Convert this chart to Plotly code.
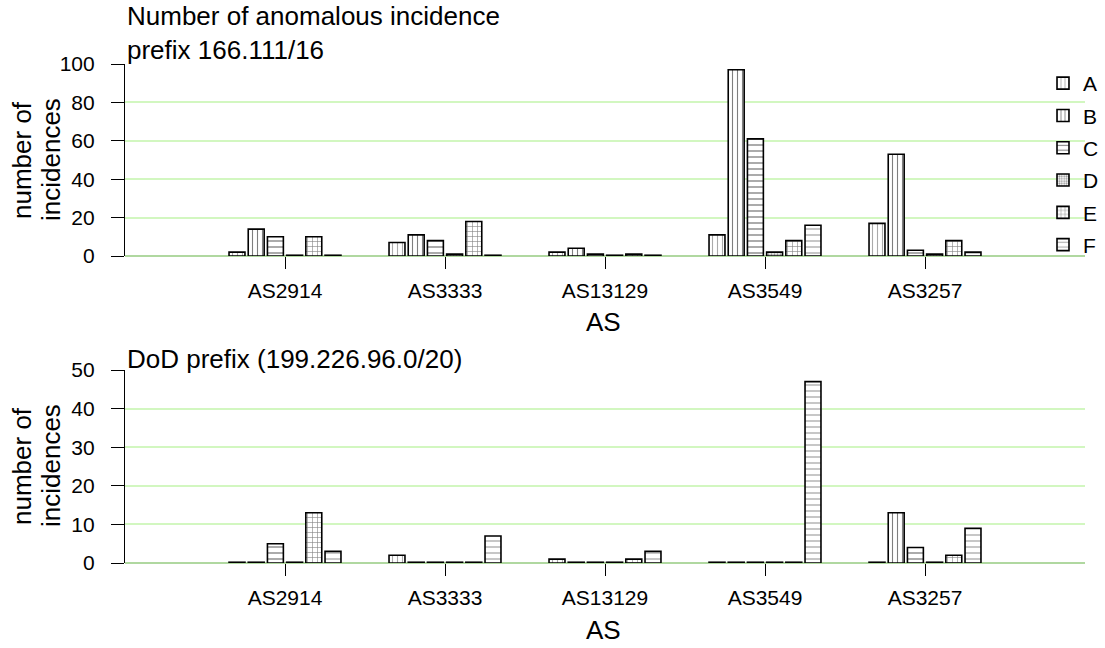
import plotly.graph_objects as go

categories = ["AS2914", "AS3333", "AS13129", "AS3549", "AS3257"]
series_names = ["A", "B", "C", "D", "E", "F"]

# top chart: prefix 166.111/16
top_A = [2, 7, 2, 11, 17]
top_B = [14, 11, 4, 97, 53]
top_C = [10, 8, 1, 61, 3]
top_D = [0, 1, 0, 2, 1]
top_E = [10, 18, 1, 8, 8]
top_F = [0, 0, 0, 16, 2]

# bottom chart: DoD prefix (199.226.96.0/20)
bot_A = [0, 2, 1, 0, 0]
bot_B = [0, 0, 0, 0, 13]
bot_C = [5, 0, 0, 0, 4]
bot_D = [0, 0, 0, 0, 0]
bot_E = [13, 0, 1, 0, 2]
bot_F = [3, 7, 3, 47, 9]

top_vals = [top_A, top_B, top_C, top_D, top_E, top_F]
bot_vals = [bot_A, bot_B, bot_C, bot_D, bot_E, bot_F]

patterns = [
    dict(shape="|", fgcolor="#555555", size=5, solidity=0.22),
    dict(shape="|", fgcolor="black", size=5, solidity=0.22),
    dict(shape="-", fgcolor="black", size=6, solidity=0.22),
    dict(shape=".", fgcolor="#333333", size=3, solidity=0.45),
    dict(shape="+", fgcolor="black", size=5, solidity=0.22),
    dict(shape="-", fgcolor="#555555", size=6, solidity=0.22),
]

FONT = "Liberation Sans, Arial, sans-serif"
W, H = 1105, 648
GRID = "#d2f7c0"
ZERO = "#b0d8a0"

def px_x(p):
    return p / W

def px_y(p):
    return 1 - p / H

fig = go.Figure()

def shown(vals, eps):
    # zero-valued bars are drawn as a flat outline in the reference
    return [v if v > 0 else eps for v in vals]

for i, name in enumerate(series_names):
    fig.add_trace(go.Bar(
        x=categories, y=shown(top_vals[i], 0.4), name=name,
        customdata=top_vals[i], hovertemplate="%{x}: %{customdata}<extra>" + name + "</extra>",
        marker=dict(color="white", line=dict(color="black", width=1.6), pattern=patterns[i]),
        xaxis="x", yaxis="y", legendgroup=name, showlegend=True,
    ))
for i, name in enumerate(series_names):
    fig.add_trace(go.Bar(
        x=categories, y=shown(bot_vals[i], 0.2), name=name,
        customdata=bot_vals[i], hovertemplate="%{x}: %{customdata}<extra>" + name + "</extra>",
        marker=dict(color="white", line=dict(color="black", width=1.6), pattern=patterns[i]),
        xaxis="x2", yaxis="y2", legendgroup=name, showlegend=False,
    ))

xl, xr = px_x(125), px_x(1085)
top_dom = [px_y(256), px_y(64)]
bot_dom = [px_y(563), px_y(370)]

xcommon = dict(
    type="category", range=[-1, 5], domain=[xl, xr], automargin=False,
    showgrid=False, zeroline=False, showline=False,
    ticks="outside", ticklen=12, tickwidth=1, tickcolor="black",
    ticklabelstandoff=4,
    tickfont=dict(family=FONT, size=21, color="black"),
)
ycommon = dict(
    automargin=False,
    showgrid=True, gridcolor=GRID, gridwidth=1.5,
    zeroline=True, zerolinecolor=ZERO, zerolinewidth=1.5,
    showline=True, linecolor="black", linewidth=1.2,
    ticks="outside", ticklen=13, tickwidth=1.2, tickcolor="black",
    ticklabelstandoff=12,
    tickfont=dict(family=FONT, size=21, color="black"),
)

title_font = dict(family=FONT, size=26, color="black")
annotations = [
    dict(text="Number of anomalous incidence<br>prefix 166.111/16", x=xl, y=px_y(67),
         xanchor="left", yanchor="bottom", align="left", font=title_font),
    dict(text="DoD prefix (199.226.96.0/20)", x=xl, y=px_y(376),
         xanchor="left", yanchor="bottom", align="left", font=title_font),
    dict(text="AS", x=px_x(604), y=px_y(322), xanchor="center", yanchor="middle", font=title_font),
    dict(text="AS", x=px_x(604), y=px_y(630), xanchor="center", yanchor="middle", font=title_font),
]
for yc in (160, 466):
    annotations.append(dict(text="number of", x=px_x(22), y=px_y(yc), textangle=-90,
                            xanchor="center", yanchor="middle", font=title_font))
    annotations.append(dict(text="incidences", x=px_x(51), y=px_y(yc), textangle=-90,
                            xanchor="center", yanchor="middle", font=title_font))
for a in annotations:
    a.update(xref="paper", yref="paper", showarrow=False)

fig.update_layout(
    width=W, height=H, autosize=False,
    margin=dict(l=0, r=0, t=0, b=0, autoexpand=False),
    paper_bgcolor="white", plot_bgcolor="white",
    barmode="group", bargap=0.28, bargroupgap=0.17,
    font=dict(family=FONT, color="black"),
    xaxis=dict(xcommon, anchor="y"),
    yaxis=dict(ycommon, domain=top_dom, range=[0, 100], tickvals=[0, 20, 40, 60, 80, 100], anchor="x"),
    xaxis2=dict(xcommon, anchor="y2"),
    yaxis2=dict(ycommon, domain=bot_dom, range=[0, 50], tickvals=[0, 10, 20, 30, 40, 50], anchor="x2"),
    legend=dict(
        x=px_x(1043), y=px_y(63), xanchor="left", yanchor="top",
        bgcolor="rgba(0,0,0,0)", font=dict(family=FONT, size=21, color="black"),
        itemwidth=30, tracegroupgap=2,
    ),
    annotations=annotations,
)

# place the figure at the page origin so its pixels line up with the window
fig.write_html("out.html", config={"displayModeBar": False},
               post_script="document.body.style.margin='0';")
